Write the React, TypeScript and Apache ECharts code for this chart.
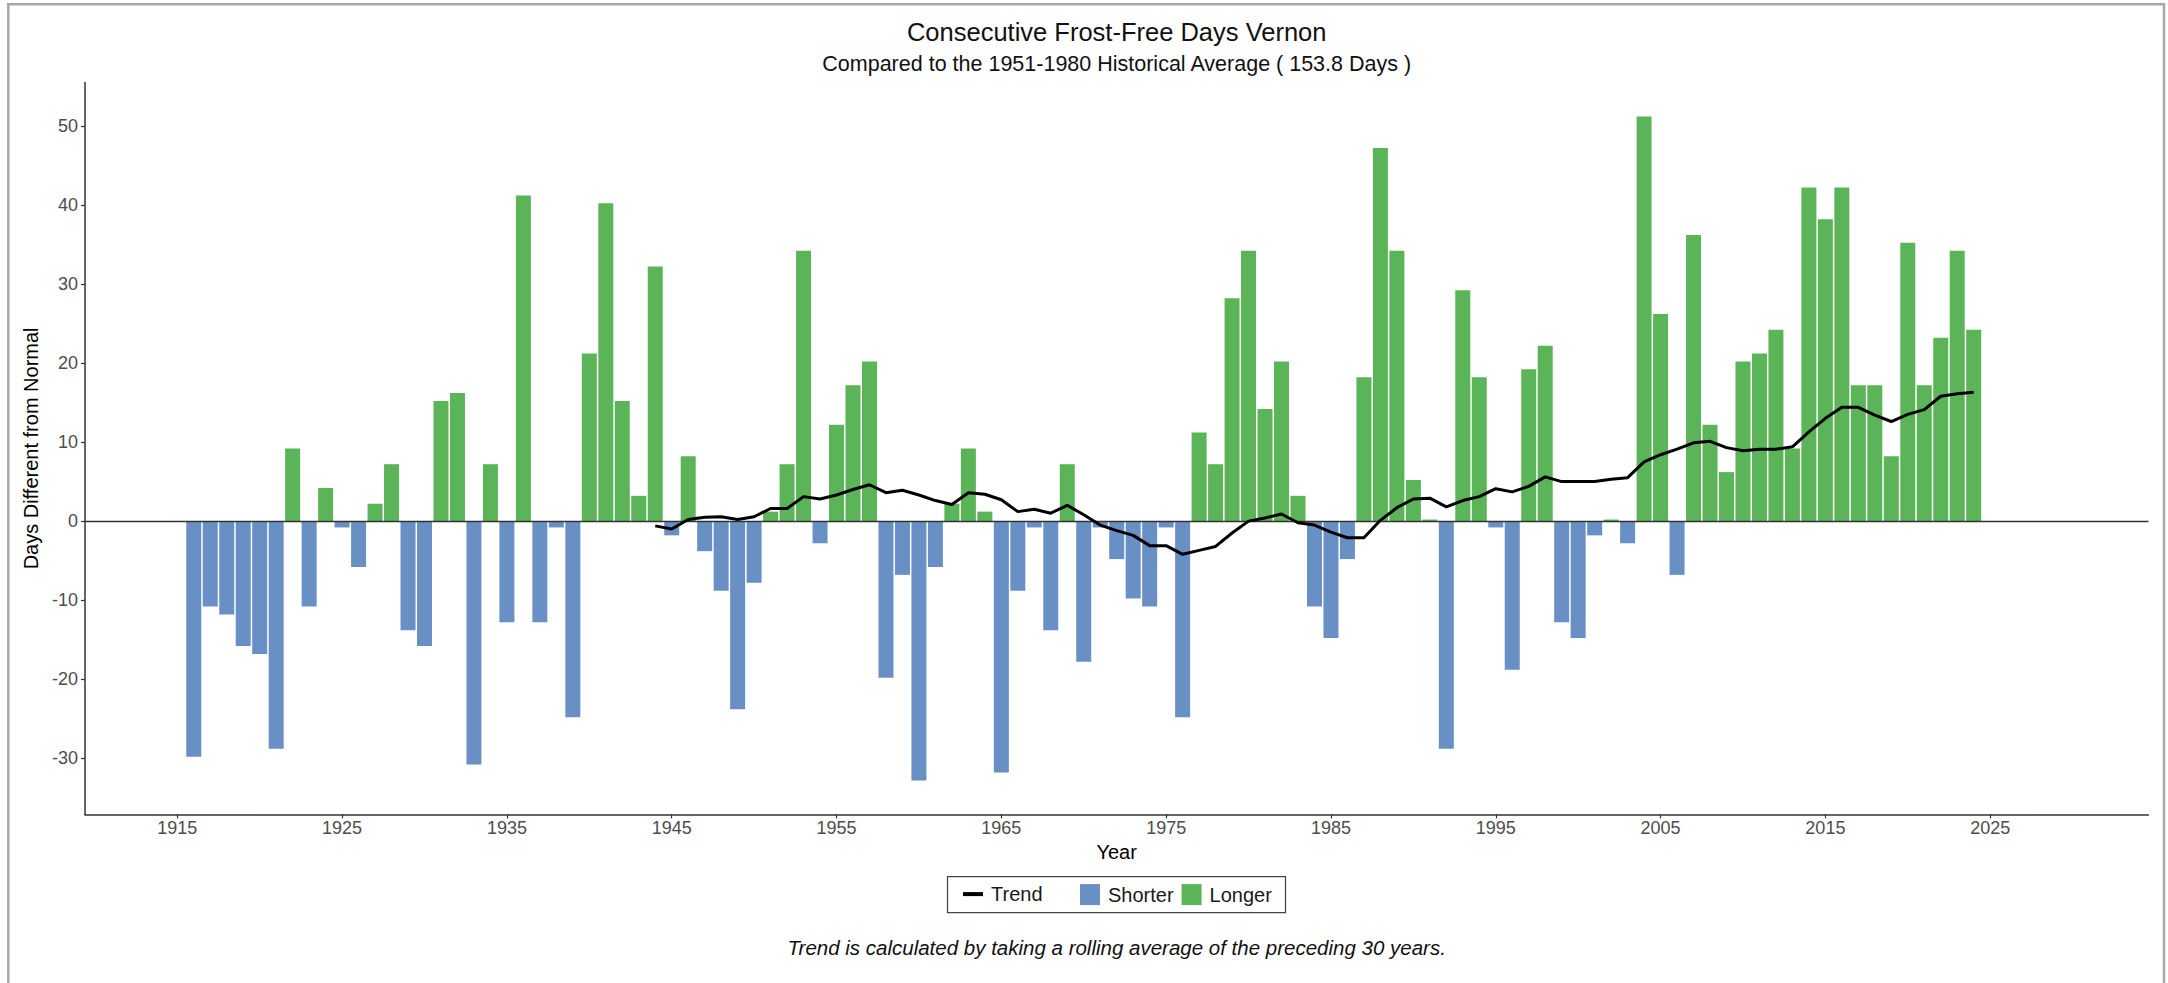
import React, { useEffect, useRef } from "react";
import * as echarts from "echarts";

const years: number[] = [
  1916, 1917, 1918, 1919, 1920, 1921, 1922, 1923, 1924, 1925, 1926, 1927, 1928, 1929, 1930,
  1931, 1932, 1933, 1934, 1935, 1936, 1937, 1938, 1939, 1940, 1941, 1942, 1943, 1944, 1945,
  1946, 1947, 1948, 1949, 1950, 1951, 1952, 1953, 1954, 1955, 1956, 1957, 1958, 1959, 1960,
  1961, 1962, 1963, 1964, 1965, 1966, 1967, 1968, 1969, 1970, 1971, 1972, 1973, 1974, 1975,
  1976, 1977, 1978, 1979, 1980, 1981, 1982, 1983, 1984, 1985, 1986, 1987, 1988, 1989, 1990,
  1991, 1992, 1993, 1994, 1995, 1996, 1997, 1998, 1999, 2000, 2001, 2002, 2003, 2004, 2005,
  2006, 2007, 2008, 2009, 2010, 2011, 2012, 2013, 2014, 2015, 2016, 2017, 2018, 2019, 2020,
  2021, 2022, 2023, 2024,
];

// Days different from the 1951-1980 normal (153.8 days)
const diffDays: number[] = [
  -29.8, -10.8, -11.8, -15.8, -16.8, -28.8, 9.2, -10.8, 4.2, -0.8, -5.8, 2.2, 7.2, -13.8, -15.8,
  15.2, 16.2, -30.8, 7.2, -12.8, 41.2, -12.8, -0.8, -24.8, 21.2, 40.2, 15.2, 3.2, 32.2, -1.8,
  8.2, -3.8, -8.8, -23.8, -7.8, 1.2, 7.2, 34.2, -2.8, 12.2, 17.2, 20.2, -19.8, -6.8, -32.8,
  -5.8, 2.2, 9.2, 1.2, -31.8, -8.8, -0.8, -13.8, 7.2, -17.8, -0.8, -4.8, -9.8, -10.8, -0.8,
  -24.8, 11.2, 7.2, 28.2, 34.2, 14.2, 20.2, 3.2, -10.8, -14.8, -4.8, 18.2, 47.2, 34.2, 5.2,
  0.2, -28.8, 29.2, 18.2, -0.8, -18.8, 19.2, 22.2, -12.8, -14.8, -1.8, 0.2, -2.8, 51.2, 26.2,
  -6.8, 36.2, 12.2, 6.2, 20.2, 21.2, 24.2, 9.2, 42.2, 38.2, 42.2, 17.2, 17.2, 8.2, 35.2,
  17.2, 23.2, 34.2, 24.2,
];

const trendYears: number[] = [
  1944, 1945, 1946, 1947, 1948, 1949, 1950, 1951, 1952, 1953, 1954, 1955, 1956, 1957, 1958,
  1959, 1960, 1961, 1962, 1963, 1964, 1965, 1966, 1967, 1968, 1969, 1970, 1971, 1972, 1973,
  1974, 1975, 1976, 1977, 1978, 1979, 1980, 1981, 1982, 1983, 1984, 1985, 1986, 1987, 1988,
  1989, 1990, 1991, 1992, 1993, 1994, 1995, 1996, 1997, 1998, 1999, 2000, 2001, 2002, 2003,
  2004, 2005, 2006, 2007, 2008, 2009, 2010, 2011, 2012, 2013, 2014, 2015, 2016, 2017, 2018,
  2019, 2020, 2021, 2022, 2023, 2024,
];

const trendValues: number[] = [
  -0.6, -1.0, 0.2, 0.5, 0.55, 0.2, 0.55, 1.6, 1.6, 3.1, 2.8, 3.3, 4.0, 4.6, 3.6,
  3.9, 3.3, 2.6, 2.1, 3.6, 3.4, 2.7, 1.2, 1.5, 1.0, 2.0, 0.8, -0.5, -1.2, -1.8,
  -3.1, -3.1, -4.2, -3.7, -3.2, -1.5, 0.0, 0.4, 0.9, -0.2, -0.5, -1.4, -2.1, -2.1, 0.1,
  1.7, 2.8, 2.9, 1.8, 2.6, 3.1, 4.1, 3.7, 4.4, 5.6, 5.0, 5.0, 5.0, 5.3, 5.5,
  7.5, 8.4, 9.1, 9.9, 10.1, 9.3, 8.9, 9.1, 9.1, 9.4, 11.3, 13.0, 14.4, 14.4, 13.4,
  12.6, 13.5, 14.1, 15.8, 16.1, 16.3,
];

const xTickValues: number[] = [1915, 1925, 1935, 1945, 1955, 1965, 1975, 1985, 1995, 2005, 2015, 2025];
const yTickValues: number[] = [-30, -20, -10, 0, 10, 20, 30, 40, 50];

const TITLE = "Consecutive Frost-Free Days Vernon";
const SUBTITLE = "Compared to the 1951-1980 Historical Average ( 153.8 Days )";
const FOOTNOTE = "Trend is calculated by taking a rolling average of the preceding 30 years.";

const BLUE = "#6990c5";
const GREEN = "#5bb457";
const FONT = "'Liberation Sans', Arial, Helvetica, sans-serif";

export default function App() {
  const ref = useRef<HTMLDivElement | null>(null);

  useEffect(() => {
    if (!ref.current) return;
    const chart = echarts.init(ref.current, undefined, { renderer: "svg" });

    const shorter = years.map((y, i) => (diffDays[i] < 0 ? [y, diffDays[i]] : [y, null]));
    const longer = years.map((y, i) => (diffDays[i] >= 0 ? [y, diffDays[i]] : [y, null]));
    const trend = trendYears.map((y, i) => [y, trendValues[i]]);

    const plotLeft = 85;
    const plotRight = 2148.4;
    const cx = (plotLeft + plotRight) / 2;

    const legendBox = { x: 947.5, y: 876.6, w: 338, h: 36 };
    const legendTop = legendBox.y + 7.5;
    const legendCommon = {
      top: legendTop,
      orient: "horizontal",
      itemWidth: 20,
      itemHeight: 21,
      itemGap: 8,
      padding: 0,
      selectedMode: false,
      textStyle: { fontSize: 20, color: "#1a1a1a", fontFamily: FONT, padding: [0, 0, 0, 3] },
    };

    chart.setOption({
      animation: false,
      backgroundColor: "#ffffff",
      textStyle: { fontFamily: FONT },
      grid: {
        left: plotLeft,
        right: 2168 - plotRight,
        top: 82.4,
        bottom: 983 - 814.4,
        containLabel: false,
      },
      legend: [
        {
          ...legendCommon,
          left: 963,
          data: [{ name: "Trend", icon: "path://M0,0H20V4H0Z" }],
        },
        {
          ...legendCommon,
          left: 1080,
          data: [
            { name: "Shorter", icon: "rect" },
            { name: "Longer", icon: "rect" },
          ],
        },
      ],
      xAxis: {
        type: "value",
        min: 1909.4,
        max: 2034.6,
        name: "Year",
        nameLocation: "middle",
        nameGap: 28,
        nameTextStyle: { fontSize: 20, color: "#000", fontFamily: FONT },
        axisLine: { show: true, onZero: false, lineStyle: { color: "#333", width: 1.5 } },
        axisTick: { show: true, length: 4, lineStyle: { color: "#333", width: 1.2 }, customValues: xTickValues },
        axisLabel: {
          show: true,
          fontSize: 18,
          color: "#4d4d4d",
          margin: 5,
          fontFamily: FONT,
          customValues: xTickValues,
          formatter: (v: number) => String(v),
        },
        splitLine: { show: false },
      },
      yAxis: {
        type: "value",
        min: -37.1,
        max: 55.5,
        name: "Days Different from Normal",
        nameLocation: "middle",
        nameGap: 36,
        nameTextStyle: { fontSize: 20, color: "#000", fontFamily: FONT },
        axisLine: { show: true, onZero: false, lineStyle: { color: "#333", width: 1.5 } },
        axisTick: { show: true, length: 4, lineStyle: { color: "#333", width: 1.2 }, customValues: yTickValues },
        axisLabel: {
          show: true,
          fontSize: 18,
          color: "#4d4d4d",
          margin: 7,
          fontFamily: FONT,
          customValues: yTickValues,
        },
        splitLine: { show: false },
      },
      series: [
        {
          name: "Trend",
          type: "line",
          data: trend,
          symbol: "none",
          showSymbol: false,
          z: 5,
          lineStyle: { color: "#000", width: 3 },
          itemStyle: { color: "#000" },
        },
        {
          name: "Shorter",
          type: "bar",
          stack: "days",
          data: shorter,
          barWidth: 15,
          z: 2,
          itemStyle: { color: BLUE },
        },
        {
          name: "Longer",
          type: "bar",
          stack: "days",
          data: longer,
          barWidth: 15,
          z: 2,
          itemStyle: { color: GREEN },
          markLine: {
            silent: true,
            symbol: ["none", "none"],
            label: { show: false },
            lineStyle: { color: "#333", width: 1.3, type: "solid" },
            data: [{ yAxis: 0 }],
            z: 3,
          },
        },
      ],
      graphic: [
        {
          type: "rect",
          shape: { x: 8.3, y: 4.3, width: 2155.7, height: 1000 },
          style: { fill: "none", stroke: "#a8a8a8", lineWidth: 2.5 },
          silent: true,
          z: 0,
        },
        {
          type: "rect",
          shape: { x: legendBox.x, y: legendBox.y, width: legendBox.w, height: legendBox.h },
          style: { fill: "none", stroke: "#444", lineWidth: 1.2 },
          silent: true,
          z: 0,
        },
        {
          type: "text",
          x: cx,
          y: 31.7,
          style: {
            text: TITLE,
            fontSize: 25.5,
            fontFamily: FONT,
            fill: "#111",
            textAlign: "center",
            textVerticalAlign: "middle",
          },
        },
        {
          type: "text",
          x: cx,
          y: 63.5,
          style: {
            text: SUBTITLE,
            fontSize: 21.5,
            fontFamily: FONT,
            fill: "#111",
            textAlign: "center",
            textVerticalAlign: "middle",
          },
        },
        {
          type: "text",
          x: cx,
          y: 947,
          style: {
            text: FOOTNOTE,
            fontSize: 20.5,
            fontStyle: "italic",
            fontFamily: FONT,
            fill: "#111",
            textAlign: "center",
            textVerticalAlign: "middle",
          },
        },
      ],
    });

    return () => {
      chart.dispose();
    };
  }, []);

  return (
    <div
      ref={ref}
      style={{ position: "fixed", left: 0, top: 0, width: "2168px", height: "983px", background: "#fff" }}
    />
  );
}
